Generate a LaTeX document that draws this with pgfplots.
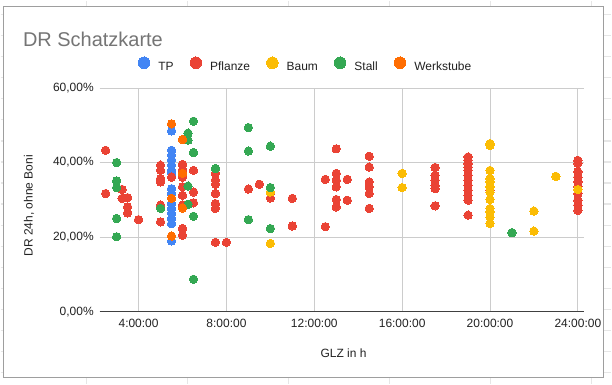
\documentclass[border=0pt]{standalone}
\usepackage{fontspec}
\setmainfont{Liberation Sans}
\usepackage{pgfplots}
\pgfplotsset{compat=1.18}
\definecolor{cTP}{HTML}{4285F4}
\definecolor{cPf}{HTML}{EA4335}
\definecolor{cBa}{HTML}{FBBC04}
\definecolor{cSt}{HTML}{34A853}
\definecolor{cWe}{HTML}{FF6D01}
\definecolor{cBorder}{HTML}{9E9E9E}
\definecolor{cSheet}{HTML}{E6E6E6}
\definecolor{cTitle}{HTML}{757575}
\definecolor{cGrid}{HTML}{CCCCCC}
\definecolor{cText}{HTML}{222222}
\begin{document}
\begin{tikzpicture}
% page background with spreadsheet grid (pixel -> bp: x-99.3, 311.7-y)
\fill[white] (-99.3bp,-72.3bp) rectangle (512.7bp,311.7bp);
\begin{scope}[cSheet, line width=1.2bp]
\foreach \gx in {86,187.2,288.4,389.6,490.8,592} {
  \draw (\gx bp-99.3bp,-72.3bp) -- (\gx bp-99.3bp,311.7bp);
}
\foreach \gy in {14,35.1,56.2,77.3,98.4,119.5,140.6,161.7,182.8,203.9,225,246.1,267.2,288.3,309.4,330.5,351.6,372.7} {
  \draw (-99.3bp,311.7bp-\gy bp) -- (512.7bp,311.7bp-\gy bp);
}
\end{scope}
\fill[white] (-96.3bp,-66.3bp) rectangle (505bp,305.7bp);
\draw[cBorder, line width=0.9bp] (-96.3bp,-66.3bp) rectangle (505bp,305.7bp);
\node[anchor=west, text=cTitle, font=\fontsize{20bp}{24bp}\selectfont, inner sep=0pt] at (-77bp,273.2bp) {DR Schatzkarte};
\begin{axis}[
  at={(0bp,0bp)}, anchor=south west,
  scale only axis, width=485.7bp, height=224.1bp,
  xmin=2.23, xmax=24.3, ymin=0, ymax=60,
  clip=false,
  axis x line*=bottom, axis y line*=left,
  x axis line style={draw=black!75, line width=0.9bp, -},
  y axis line style={draw=none},
  major tick length=0pt,
  xtick={4,8,12,16,20,24},
  xticklabels={4:00:00,8:00:00,12:00:00,16:00:00,20:00:00,24:00:00},
  ytick={0,20,40,60},
  yticklabels={{0,00\%},{20,00\%},{40,00\%},{60,00\%}},
  ticklabel style={font=\fontsize{12bp}{14bp}\selectfont, text=cText},
  xticklabel style={yshift=-3.5bp},
  yticklabel style={xshift=-2.5bp},
  grid=major,
  major grid style={cGrid, line width=0.8bp},
  xlabel={GLZ in h},
  ylabel={DR 24h, ohne Boni},
  label style={font=\fontsize{12bp}{14bp}\selectfont, text=cText},
  xlabel style={at={(axis description cs:0.503,-0.186)}, anchor=center},
  ylabel style={at={(axis description cs:-0.1458,0.474)}, anchor=center},
  legend columns=5,
  legend style={draw=none, fill=none, inner sep=0pt, at={(axis description cs:0.4231,1.105)}, anchor=center,
    font=\fontsize{12bp}{14bp}\selectfont, text=cText,
    nodes={inner sep=0pt},
    /tikz/every odd column/.append style={column sep=8.5bp},
    /tikz/every even column/.append style={column sep=16.5bp}},
  legend image code/.code={\fill[#1] (0bp,4.3bp) circle (5.8bp);},
  every axis plot/.append style={only marks, mark=*, mark size=4.2bp, line width=0pt},
]
\addplot[cTP, mark options={draw=cTP, fill=cTP}] coordinates {
(5.5,48.5)(5.5,43.3)(5.5,42.0)(5.5,40.7)(5.5,39.3)(5.5,37.9)(5.5,37.1)
(5.5,33.0)(5.5,31.7)(5.5,30.4)(5.5,29.0)(5.5,27.7)(5.5,26.4)(5.5,25.0)(5.5,23.6)(5.5,19.0)
};
\addlegendentry{TP}
\addplot[cPf, mark options={draw=cPf, fill=cPf}] coordinates {
(2.5,43.3)(2.5,31.7)
(3.25,32.8)(3.25,30.4)
(3.5,30.6)(3.5,28.1)(3.5,26.5)
(4,24.7)
(5,39.3)(5,37.9)(5,35.7)(5,34.8)(5,28.6)(5,24.1)
(5.5,36.1)
(6,39.5)(6,38.1)(6,36.1)(6,33.5)(6,31.2)(6,28.6)(6,22.3)(6,20.5)
(6.5,37.9)(6.5,32.1)(6.5,29.2)
(7.5,37.1)(7.5,35.3)(7.5,34.2)(7.5,31.7)(7.5,29.0)(7.5,27.7)(7.5,18.6)
(8,18.6)
(9,32.9)
(9.5,34.2)
(10,31.9)(10,30.5)
(11,30.4)(11,23.0)
(12.5,35.5)(12.5,22.8)
(13,43.7)(13,37.1)(13,35.3)(13,33.5)(13,30.1)(13,28.1)
(13.5,35.5)(13.5,29.9)
(14.5,41.7)(14.5,38.8)(14.5,34.8)(14.5,33.5)(14.5,31.7)(14.5,27.7)
(17.5,38.7)(17.5,36.6)(17.5,35.3)(17.5,33.9)(17.5,33.0)(17.5,28.4)
(19,41.5)(19,40.6)(19,39.7)(19,38.8)(19,37.9)(19,36.6)(19,35.3)(19,33.9)(19,32.6)(19,31.2)(19,29.9)(19,25.9)
(20,32.6)
(24,40.6)(24,39.8)(24,37.5)(24,36.1)(24,34.8)(24,33.5)(24,31.7)(24,29.9)(24,28.6)(24,27.2)
};
\addlegendentry{Pflanze}
\addplot[cBa, mark options={draw=cBa, fill=cBa}] coordinates {
(10,32.1)(10,18.3)
(16,37.1)(16,33.3)
(20,45.1)(20,44.6)(20,37.9)(20,35.7)(20,34.8)(20,33.5)(20,32.1)(20,30.1)(20,27.7)(20,26.8)(20,25.4)(20,23.7)
(22,27.0)(22,21.6)
(23,36.3)
(24,32.8)
};
\addlegendentry{Baum}
\addplot[cSt, mark options={draw=cSt, fill=cSt}] coordinates {
(3,40.0)(3,35.1)(3,33.3)(3,25.0)(3,20.1)
(5,27.7)
(6.25,47.9)(6.25,46.0)(6.25,33.7)(6.25,28.8)
(6.5,51.1)(6.5,42.7)(6.5,25.6)(6.5,8.7)
(7.5,38.4)
(9,49.4)(9,43.1)(9,24.7)
(10,44.4)(10,33.3)(10,22.3)
(21,21.2)
};
\addlegendentry{Stall}
\addplot[cWe, mark options={draw=cWe, fill=cWe}] coordinates {
(5.5,50.4)(5.5,30.4)(5.5,20.3)
(6,46.2)(6,37.1)(6,27.8)
};
\addlegendentry{Werkstube}
\end{axis}
\end{tikzpicture}
\end{document}
